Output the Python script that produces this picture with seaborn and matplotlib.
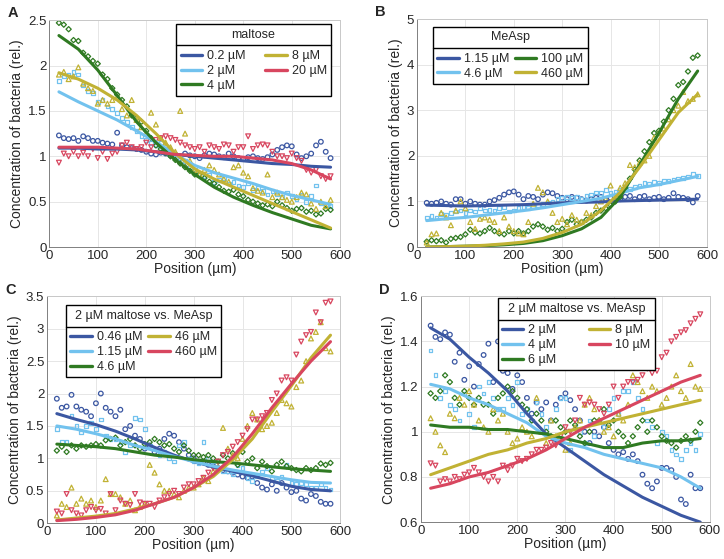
import numpy as np
import seaborn as sns
import matplotlib.pyplot as plt
from matplotlib.lines import Line2D

sns.set_style("whitegrid")
plt.rcParams['font.family'] = ['Liberation Sans', 'DejaVu Sans']

# measurement positions (µm) and positions of the fitted curves
pos = [20, 30, 40, 50, 60, 70, 80, 90, 100, 110, 120, 130, 140, 150, 160, 170, 180, 190, 200,
       210, 220, 230, 240, 250, 260, 270, 280, 290, 300, 310, 320, 330, 340, 350, 360, 370, 380,
       390, 400, 410, 420, 430, 440, 450, 460, 470, 480, 490, 500, 510, 520, 530, 540, 550, 560,
       570, 580]
line_x = [20, 60, 100, 140, 180, 220, 260, 300, 340, 380, 420, 460, 500, 540, 580]

colors = ["#3b57a2", "#72c2ee", "#2f7a22", "#c1b234", "#d8465f"]
markers = ["o", "s", "D", "^", "v"]
msizes = [11, 7, 7, 12, 12]

# ---- panel A: maltose
a_labels = ["0.2 µM", "2 µM", "4 µM", "8 µM", "20 µM"]
a_pts_1 = [1.23, 1.20, 1.19, 1.20, 1.17, 1.22, 1.20, 1.17, 1.17, 1.15, 1.14, 1.13, 1.26, 1.12, 1.10, 1.09, 1.08, 1.07, 1.05, 1.03,
           1.02, 1.04, 1.03, 1.01, 1.02, 1.00, 1.03, 1.01, 1.00, 0.98, 1.01, 1.03, 1.02, 1.00, 0.99, 1.03, 1.00, 0.98, 0.97, 0.99,
           1.00, 0.98, 0.97, 0.99, 1.02, 1.07, 1.10, 1.12, 1.11, 1.02, 0.98, 1.00, 1.03, 1.12, 1.16, 1.05, 0.98]
a_pts_2 = [1.83, 1.88, 1.90, 1.93, 1.90, 1.78, 1.72, 1.70, 1.60, 1.62, 1.55, 1.52, 1.48, 1.42, 1.38, 1.32, 1.28, 1.22, 1.18, 1.15,
           1.12, 1.15, 1.08, 1.05, 1.02, 0.98, 0.95, 0.88, 0.85, 0.80, 0.78, 0.80, 0.72, 0.74, 0.76, 0.70, 0.72, 0.68, 0.66, 0.70,
           0.63, 0.65, 0.62, 0.58, 0.62, 0.58, 0.55, 0.60, 0.56, 0.53, 0.58, 0.50, 0.56, 0.68, 0.48, 0.46, 0.45]
a_pts_3 = [2.47, 2.45, 2.40, 2.28, 2.27, 2.14, 2.10, 2.05, 2.02, 1.90, 1.85, 1.75, 1.68, 1.62, 1.55, 1.45, 1.42, 1.38, 1.28, 1.20,
           1.12, 1.08, 1.04, 1.00, 0.96, 0.92, 0.88, 0.84, 0.80, 0.80, 0.76, 0.72, 0.70, 0.66, 0.62, 0.61, 0.63, 0.58, 0.56, 0.52,
           0.50, 0.48, 0.46, 0.47, 0.45, 0.50, 0.46, 0.43, 0.40, 0.42, 0.43, 0.39, 0.40, 0.36, 0.37, 0.42, 0.41]
a_pts_4 = [1.90, 1.93, 1.85, 1.88, 1.98, 1.80, 1.75, 1.72, 1.58, 1.62, 1.58, 1.62, 1.65, 1.52, 1.45, 1.62, 1.40, 1.32, 1.25, 1.48,
           1.35, 1.20, 1.15, 1.10, 1.05, 1.50, 1.25, 0.95, 0.85, 0.80, 0.85, 0.90, 0.85, 0.80, 0.75, 0.72, 0.88, 0.90, 0.82, 0.78,
           0.65, 0.62, 0.60, 0.80, 0.55, 0.60, 0.55, 0.52, 0.50, 0.55, 0.60, 0.58, 0.48, 0.42, 0.50, 0.45, 0.52]
a_pts_5 = [0.93, 1.03, 1.00, 1.05, 1.00, 1.04, 1.00, 1.08, 0.98, 1.05, 0.97, 1.03, 1.05, 1.12, 1.15, 1.10, 1.08, 1.10, 1.15, 1.10,
           1.18, 1.20, 1.22, 1.20, 1.18, 1.15, 1.12, 1.10, 1.08, 1.10, 1.05, 1.12, 1.10, 1.08, 1.13, 1.12, 1.05, 1.10, 1.10, 1.22,
           1.08, 1.12, 1.13, 1.12, 1.05, 1.00, 1.00, 0.98, 1.03, 0.98, 0.95, 0.85, 0.82, 0.85, 0.78, 0.75, 0.78]
a_fit_1 = [1.09, 1.09, 1.08, 1.08, 1.07, 1.05, 1.02, 1.00, 0.98, 0.96, 0.94, 0.92, 0.91, 0.89, 0.88]
a_fit_2 = [1.71, 1.60, 1.50, 1.40, 1.28, 1.16, 1.02, 0.90, 0.82, 0.76, 0.70, 0.63, 0.57, 0.52, 0.47]
a_fit_3 = [2.33, 2.18, 1.95, 1.67, 1.38, 1.15, 0.96, 0.80, 0.66, 0.55, 0.46, 0.38, 0.31, 0.24, 0.20]
a_fit_4 = [1.92, 1.85, 1.75, 1.62, 1.45, 1.25, 1.03, 0.86, 0.75, 0.66, 0.57, 0.48, 0.39, 0.30, 0.21]
a_fit_5 = [1.10, 1.10, 1.10, 1.09, 1.08, 1.05, 1.02, 1.01, 1.00, 1.00, 0.98, 0.96, 0.92, 0.85, 0.75]

# ---- panel B: MeAsp
b_labels = ["1.15 µM", "4.6 µM", "100 µM", "460 µM"]
b_pts_1 = [0.97, 0.95, 0.97, 1.00, 0.95, 0.93, 1.05, 1.05, 0.95, 1.00, 0.95, 0.93, 0.93, 1.00, 1.03, 1.08, 1.15, 1.20, 1.22, 1.15,
           1.05, 1.12, 1.10, 1.05, 1.15, 1.20, 1.18, 1.12, 1.08, 1.05, 1.10, 1.08, 1.05, 1.02, 1.05, 1.08, 1.10, 1.05, 1.08, 1.02,
           1.05, 1.10, 1.12, 1.05, 1.10, 1.12, 1.05, 1.08, 1.10, 1.05, 1.08, 1.18, 1.10, 1.08, 1.05, 0.98, 1.12]
b_pts_2 = [0.65, 0.68, 0.65, 0.72, 0.70, 0.75, 0.78, 0.80, 0.75, 0.80, 0.78, 0.85, 0.80, 0.82, 0.80, 0.85, 0.88, 0.78, 0.80, 0.85,
           0.88, 0.85, 0.90, 0.92, 0.95, 0.98, 1.00, 1.05, 1.08, 1.10, 1.08, 1.10, 1.05, 1.12, 1.15, 1.20, 1.18, 1.25, 1.20, 1.22,
           1.25, 1.30, 1.28, 1.32, 1.35, 1.40, 1.38, 1.42, 1.40, 1.45, 1.45, 1.48, 1.50, 1.52, 1.55, 1.60, 1.56]
b_pts_3 = [0.12, 0.15, 0.13, 0.15, 0.10, 0.18, 0.20, 0.22, 0.28, 0.38, 0.32, 0.30, 0.35, 0.42, 0.35, 0.30, 0.28, 0.35, 0.30, 0.35,
           0.30, 0.35, 0.45, 0.50, 0.45, 0.38, 0.42, 0.35, 0.40, 0.55, 0.60, 0.50, 0.55, 0.60, 0.65, 0.75, 0.80, 0.85, 0.92, 1.00,
           1.10, 1.30, 1.50, 1.70, 1.90, 2.10, 2.30, 2.50, 2.55, 2.75, 3.00, 3.25, 3.55, 3.62, 3.85, 4.15, 4.20]
b_pts_4 = [0.10, 0.28, 0.30, 0.75, 0.65, 0.48, 0.80, 1.00, 0.85, 0.55, 0.40, 0.62, 0.65, 0.60, 0.55, 0.35, 0.65, 0.45, 0.35, 0.30,
           0.28, 0.55, 0.95, 1.30, 1.20, 1.00, 0.75, 0.55, 0.62, 0.50, 0.70, 0.60, 0.55, 0.75, 0.70, 0.90, 1.00, 1.05, 1.35, 1.10,
           1.30, 1.40, 1.80, 1.75, 1.85, 1.90, 2.00, 2.40, 2.50, 2.60, 2.80, 3.00, 3.10, 3.40, 3.20, 3.25, 3.35]
b_fit_1 = [0.92, 0.91, 0.90, 0.91, 0.92, 0.93, 0.95, 0.97, 0.98, 0.99, 1.01, 1.02, 1.03, 1.04, 1.05]
b_fit_2 = [0.58, 0.62, 0.65, 0.70, 0.75, 0.80, 0.86, 0.93, 1.00, 1.07, 1.18, 1.30, 1.37, 1.46, 1.55]
b_fit_3 = [0.00, 0.01, 0.02, 0.03, 0.05, 0.08, 0.14, 0.25, 0.40, 0.65, 1.10, 1.80, 2.50, 3.25, 3.86]
b_fit_4 = [0.00, 0.01, 0.02, 0.04, 0.07, 0.11, 0.19, 0.32, 0.50, 0.80, 1.20, 1.75, 2.35, 2.95, 3.35]

# ---- panel C: 2 µM maltose vs. MeAsp
c_labels = ["0.46 µM", "1.15 µM", "4.6 µM", "46 µM", "460 µM"]
c_pts_1 = [1.92, 1.78, 1.80, 1.98, 1.80, 1.75, 1.72, 1.65, 1.85, 2.00, 1.78, 1.72, 1.65, 1.75, 1.45, 1.50, 1.35, 1.30, 1.15, 1.20,
           1.10, 1.15, 1.30, 1.38, 1.35, 1.25, 1.15, 1.05, 1.00, 0.95, 0.95, 0.90, 0.88, 0.85, 0.82, 0.80, 0.78, 0.75, 0.72, 0.70,
           0.72, 0.62, 0.55, 0.52, 0.60, 0.50, 0.62, 0.55, 0.48, 0.50, 0.38, 0.35, 0.45, 0.42, 0.33, 0.30, 0.30]
c_pts_2 = [1.45, 1.25, 1.25, 1.65, 1.50, 1.40, 1.50, 1.55, 1.45, 1.60, 1.35, 1.30, 1.30, 1.25, 1.10, 1.20, 1.62, 1.60, 1.45, 1.20,
           1.15, 1.05, 1.10, 1.00, 0.95, 1.20, 1.25, 1.00, 0.95, 0.92, 1.25, 1.00, 0.95, 0.85, 0.80, 0.80, 0.75, 0.90, 0.85, 0.70,
           0.65, 0.72, 0.80, 0.85, 0.70, 0.65, 0.72, 0.90, 0.62, 0.60, 0.62, 0.60, 0.55, 0.55, 0.60, 0.55, 0.52]
c_pts_3 = [1.12, 1.18, 1.10, 1.20, 1.15, 1.20, 1.18, 1.20, 1.22, 1.20, 1.28, 1.30, 1.32, 1.20, 1.25, 1.30, 1.20, 1.15, 1.22, 1.25,
           1.30, 1.25, 1.20, 1.22, 1.15, 1.10, 1.20, 1.12, 1.05, 1.05, 1.02, 1.05, 1.00, 0.95, 1.05, 1.00, 1.08, 0.90, 1.10, 0.95,
           1.00, 0.85, 0.95, 0.88, 0.80, 0.90, 0.95, 0.88, 0.85, 0.82, 0.80, 0.85, 0.82, 0.85, 0.92, 0.90, 0.93]
c_pts_4 = [0.12, 0.30, 0.25, 0.55, 0.30, 0.38, 0.30, 0.35, 0.25, 0.35, 0.68, 0.45, 0.45, 0.40, 0.30, 0.35, 0.20, 0.25, 0.30, 0.90,
           0.78, 0.60, 0.50, 0.50, 0.45, 0.40, 0.50, 0.55, 0.55, 0.60, 0.70, 0.65, 0.80, 0.85, 1.47, 1.15, 1.05, 1.00, 1.30, 1.50,
           1.70, 1.60, 1.45, 1.50, 1.55, 1.70, 1.90, 1.85, 1.80, 2.10, 2.20, 2.50, 2.85, 2.95, 3.10, 2.70, 2.65]
c_pts_5 = [0.18, 0.15, 0.45, 0.20, 0.15, 0.12, 0.20, 0.25, 0.20, 0.22, 0.15, 0.45, 0.20, 0.35, 0.30, 0.28, 0.45, 0.32, 0.30, 0.30,
           0.25, 0.35, 0.40, 0.45, 0.50, 0.45, 0.55, 0.60, 0.60, 0.65, 0.70, 0.78, 0.85, 0.95, 1.05, 1.10, 1.18, 1.25, 1.35, 1.45,
           1.60, 1.60, 1.65, 1.70, 1.90, 2.00, 2.20, 2.25, 2.20, 2.60, 2.80, 2.90, 2.95, 3.25, 3.10, 3.40, 3.42]
c_fit_1 = [1.69, 1.60, 1.52, 1.42, 1.30, 1.17, 1.05, 0.95, 0.87, 0.80, 0.73, 0.65, 0.57, 0.52, 0.50]
c_fit_2 = [1.50, 1.45, 1.38, 1.30, 1.20, 1.12, 1.03, 0.95, 0.88, 0.82, 0.77, 0.72, 0.67, 0.63, 0.62]
c_fit_3 = [1.22, 1.20, 1.18, 1.15, 1.10, 1.05, 1.02, 0.98, 0.95, 0.93, 0.90, 0.87, 0.84, 0.82, 0.80]
c_fit_4 = [0.05, 0.08, 0.11, 0.15, 0.22, 0.30, 0.40, 0.55, 0.72, 0.98, 1.30, 1.72, 2.12, 2.55, 2.90]
c_fit_5 = [0.04, 0.06, 0.09, 0.13, 0.20, 0.30, 0.40, 0.55, 0.75, 1.02, 1.38, 1.78, 2.15, 2.50, 2.80]

# ---- panel D: 2 µM maltose vs. MeAsp (low range)
d_labels = ["2 µM", "4 µM", "6 µM", "8 µM", "10 µM"]
d_pts_1 = [1.47, 1.42, 1.41, 1.44, 1.43, 1.31, 1.35, 1.23, 1.29, 1.20, 1.30, 1.34, 1.39, 1.22, 1.40, 1.27, 1.26, 1.19, 1.25, 1.22,
           1.15, 1.08, 1.13, 1.10, 1.13, 1.05, 1.12, 1.15, 1.17, 1.14, 1.10, 1.05, 1.00, 0.95, 1.00, 0.98, 1.02, 0.95, 0.92, 0.90,
           0.91, 0.88, 0.90, 0.87, 0.81, 0.77, 0.75, 0.78, 0.84, 0.84, 0.83, 0.80, 0.70, 0.68, 0.81, 0.75, 0.75]
d_pts_2 = [1.36, 1.25, 1.15, 1.18, 1.12, 1.10, 1.05, 1.17, 1.08, 1.02, 1.20, 1.17, 1.22, 1.15, 1.10, 1.10, 1.15, 1.12, 1.22, 1.08,
           1.10, 1.05, 1.13, 1.08, 1.02, 1.05, 1.10, 1.15, 1.15, 0.92, 1.02, 1.00, 0.95, 1.05, 0.98, 1.05, 1.02, 1.10, 1.15, 1.08,
           1.18, 1.18, 1.22, 1.15, 1.10, 1.05, 1.02, 0.95, 1.00, 0.98, 0.92, 0.90, 0.88, 0.92, 0.95, 0.92, 0.99]
d_pts_3 = [1.17, 1.15, 1.18, 1.25, 1.22, 1.15, 1.12, 1.18, 1.15, 1.12, 1.15, 1.12, 1.12, 1.08, 1.15, 1.17, 1.20, 1.18, 1.15, 1.12,
           1.10, 1.05, 1.08, 1.05, 1.00, 0.98, 1.05, 1.02, 1.00, 1.05, 1.03, 0.98, 0.95, 1.00, 1.05, 1.05, 1.10, 1.03, 1.05, 1.00,
           0.98, 0.95, 0.98, 1.02, 1.05, 1.00, 1.05, 1.02, 0.98, 0.96, 0.95, 0.93, 0.96, 0.98, 0.96, 1.00, 1.04]
d_pts_4 = [1.06, 1.00, 0.94, 0.91, 1.08, 1.06, 1.15, 1.12, 1.18, 1.12, 1.05, 1.02, 1.00, 1.10, 1.05, 1.08, 1.00, 0.95, 0.97, 1.02,
           1.00, 0.98, 1.15, 1.00, 0.95, 1.05, 0.98, 0.96, 0.92, 0.95, 1.02, 1.05, 1.12, 1.15, 1.10, 1.05, 1.00, 1.02, 0.98, 1.08,
           1.05, 1.12, 1.25, 1.22, 1.18, 1.15, 1.20, 1.18, 1.12, 1.15, 1.20, 1.25, 1.18, 1.15, 1.30, 1.20, 1.19]
d_pts_5 = [0.86, 0.85, 0.78, 0.79, 0.78, 0.80, 0.79, 0.81, 0.82, 0.84, 0.82, 0.80, 0.78, 0.80, 0.78, 0.85, 0.83, 0.85, 0.88, 0.87,
           0.88, 0.90, 0.92, 0.92, 0.93, 0.95, 0.94, 0.98, 1.02, 1.00, 1.05, 1.15, 1.12, 1.13, 1.12, 1.10, 1.08, 1.12, 1.20, 1.15,
           1.20, 1.22, 1.22, 1.23, 1.25, 1.28, 1.26, 1.27, 1.33, 1.35, 1.40, 1.42, 1.44, 1.45, 1.48, 1.50, 1.52]
d_fit_1 = [1.46, 1.41, 1.33, 1.26, 1.18, 1.08, 0.99, 0.93, 0.87, 0.81, 0.76, 0.71, 0.67, 0.63, 0.60]
d_fit_2 = [1.21, 1.19, 1.15, 1.12, 1.08, 1.04, 0.98, 0.95, 0.93, 0.90, 0.88, 0.86, 0.84, 0.80, 0.75]
d_fit_3 = [1.03, 1.02, 1.02, 1.01, 1.01, 1.00, 0.99, 0.97, 0.95, 0.93, 0.93, 0.95, 0.96, 0.96, 0.97]
d_fit_4 = [0.81, 0.84, 0.87, 0.90, 0.92, 0.95, 0.97, 1.00, 1.02, 1.04, 1.06, 1.08, 1.10, 1.12, 1.14]
d_fit_5 = [0.75, 0.77, 0.80, 0.82, 0.85, 0.88, 0.92, 0.97, 1.02, 1.06, 1.10, 1.14, 1.18, 1.22, 1.25]

panels = [
    dict(rect=[0.068, 0.558, 0.402, 0.406], letter="A", title="maltose", labels=a_labels,
         pts=[a_pts_1, a_pts_2, a_pts_3, a_pts_4, a_pts_5],
         fits=[a_fit_1, a_fit_2, a_fit_3, a_fit_4, a_fit_5],
         ylim=(0, 2.5), yticks=[0, 0.5, 1, 1.5, 2, 2.5], leg=(0.436, 0.982), cs=1.6),
    dict(rect=[0.576, 0.558, 0.401, 0.408], letter="B", title="MeAsp", labels=b_labels,
         pts=[b_pts_1, b_pts_2, b_pts_3, b_pts_4],
         fits=[b_fit_1, b_fit_2, b_fit_3, b_fit_4],
         ylim=(0, 5), yticks=[0, 1, 2, 3, 4, 5], leg=(0.055, 0.965), cs=0.5),
    dict(rect=[0.065, 0.064, 0.405, 0.406], letter="C", title="2 µM maltose vs. MeAsp", labels=c_labels,
         pts=[c_pts_1, c_pts_2, c_pts_3, c_pts_4, c_pts_5],
         fits=[c_fit_1, c_fit_2, c_fit_3, c_fit_4, c_fit_5],
         ylim=(0, 3.5), yticks=[0, 0.5, 1, 1.5, 2, 2.5, 3, 3.5], leg=(0.065, 0.96), cs=0.5),
    dict(rect=[0.5815, 0.066, 0.399, 0.404], letter="D", title="2 µM maltose vs. MeAsp", labels=d_labels,
         pts=[d_pts_1, d_pts_2, d_pts_3, d_pts_4, d_pts_5],
         fits=[d_fit_1, d_fit_2, d_fit_3, d_fit_4, d_fit_5],
         ylim=(0.6, 1.6), yticks=[0.6, 0.8, 1, 1.2, 1.4, 1.6], leg=(0.266, 0.991), cs=2.6),
]
panel_colors = {"A": [0, 1, 2, 3, 4], "B": [0, 1, 2, 3], "C": [0, 1, 2, 3, 4], "D": [0, 1, 2, 3, 4]}

fig = plt.figure(figsize=(7.24, 5.59), dpi=100)
legends = []
for p in panels:
    ax = fig.add_axes(p["rect"])
    idx = panel_colors[p["letter"]]
    for k, vals in zip(idx, p["pts"]):
        sns.scatterplot(x=pos, y=vals, ax=ax, marker=markers[k], s=msizes[k], facecolors="none",
                        edgecolor=colors[k], linewidth=0.9, zorder=2)
    for k, vals in zip(idx, p["fits"]):
        sns.lineplot(x=line_x, y=vals, ax=ax, color=colors[k], lw=2.2, zorder=3)
    ax.set_xlim(0, 600)
    ax.set_ylim(*p["ylim"])
    ax.set_xticks([0, 100, 200, 300, 400, 500, 600])
    ax.set_yticks(p["yticks"])
    ax.set_yticklabels(["%g" % t for t in p["yticks"]])
    ax.tick_params(labelsize=9.5, length=0, pad=2)
    ax.grid(True, color="#e6e6e6", lw=0.7)
    for name, s in ax.spines.items():
        s.set_color("#808080" if name in ("left", "bottom") else "#c8c8c8")
        s.set_linewidth(0.7)
    ax.set_xlabel("Position (µm)", fontsize=10, labelpad=0)
    ax.set_ylabel("Concentration of bacteria (rel.)", fontsize=10, labelpad=3)
    handles = [Line2D([0], [0], color=colors[k], lw=2.4) for k in idx]
    leg = ax.legend(handles, p["labels"], title=p["title"], ncol=2, loc="upper left",
                    bbox_to_anchor=p["leg"], frameon=True, fancybox=False, edgecolor="black",
                    framealpha=1, fontsize=9, title_fontsize=9, handlelength=1.7,
                    handletextpad=0.4, columnspacing=p["cs"], labelspacing=0.22, borderpad=0.35,
                    borderaxespad=0)
    leg._legend_box.sep = 7  # room between the title and the entries
    leg.get_frame().set_linewidth(1.0)
    leg.set_zorder(5)
    legends.append(leg)
    bb = ax.get_position()
    fig.text(bb.x0 - 0.058, bb.y1 + 0.012, p["letter"], fontsize=10.5, fontweight="bold",
             ha="left", va="center")

# line under each legend title, halfway between title and first entry
fig.canvas.draw()
r = fig.canvas.get_renderer()
W, H = fig.bbox.width, fig.bbox.height
for leg in legends:
    lb = leg.get_window_extent(r)
    tb = leg.get_title().get_window_extent(r)
    top_entry = max(t.get_window_extent(r).y1 for t in leg.get_texts())
    y = (tb.y0 + top_entry) / 2 / H
    fig.add_artist(Line2D([lb.x0 / W, lb.x1 / W], [y, y], transform=fig.transFigure,
                          color="black", lw=1.0, zorder=10))

fig.savefig("out.png", dpi=100)
